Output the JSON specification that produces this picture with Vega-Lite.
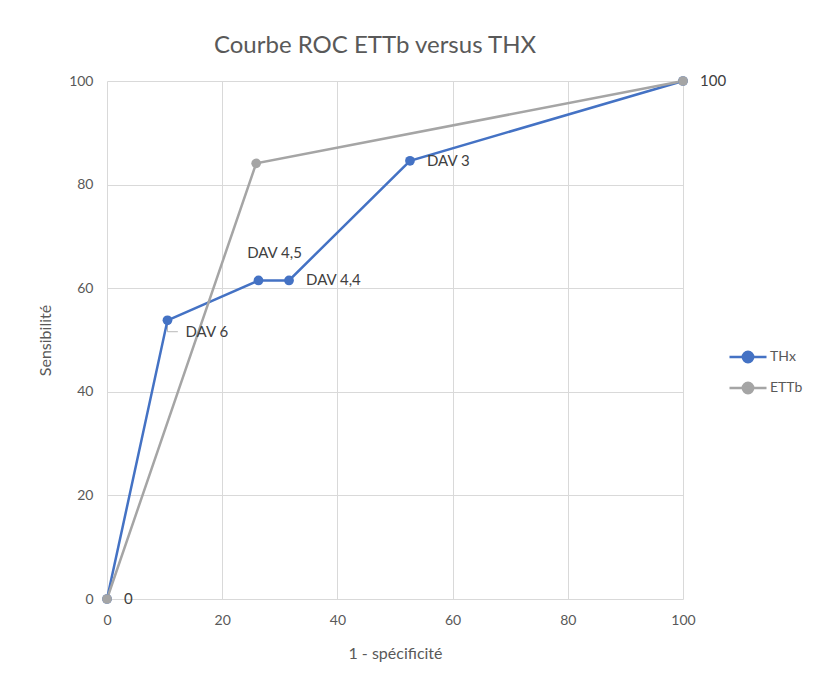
{
  "$schema": "https://vega.github.io/schema/vega-lite/v6.json",
  "autosize": "none",
  "width": 576,
  "height": 518,
  "padding": {"left": 107, "top": 81, "right": 131, "bottom": 85},
  "background": "white",
  "config": {
    "view": {"stroke": null},
    "font": "Lato",
    "axis": {
      "grid": true, "gridColor": "#d9d9d9", "gridWidth": 1,
      "domain": false, "ticks": false, "labelFlush": false, "labelBound": false,
      "labelColor": "#595959", "labelFontSize": 14, "labelFont": "Lato",
      "titleColor": "#595959", "titleFontSize": 16, "titleFontWeight": "normal", "titleFont": "Lato"
    }
  },
  "title": {
    "text": "Courbe ROC ETTb versus THX",
    "fontSize": 24, "fontWeight": "normal", "color": "#595959", "font": "Lato",
    "anchor": "middle", "dx": -20, "offset": 16
  },
  "datasets": {
    "roc": [
      {"serie": "THx", "fpr": 0, "sens": 0},
      {"serie": "THx", "fpr": 10.5, "sens": 53.8},
      {"serie": "THx", "fpr": 26.3, "sens": 61.5},
      {"serie": "THx", "fpr": 31.6, "sens": 61.5},
      {"serie": "THx", "fpr": 52.6, "sens": 84.6},
      {"serie": "THx", "fpr": 100, "sens": 100},
      {"serie": "ETTb", "fpr": 0, "sens": 0},
      {"serie": "ETTb", "fpr": 25.9, "sens": 84.1},
      {"serie": "ETTb", "fpr": 100, "sens": 100}
    ],
    "labRight": [
      {"fpr": 31.6, "sens": 61.5, "label": "DAV 4,4"},
      {"fpr": 52.6, "sens": 84.6, "label": "DAV 3"},
      {"fpr": 100, "sens": 100, "label": "100"},
      {"fpr": 0, "sens": 0, "label": "0"}
    ],
    "labAbove": [
      {"fpr": 26.3, "sens": 61.5, "label": "DAV 4,5"}
    ],
    "labBelow": [
      {"fpr": 10.5, "sens": 53.8, "label": "DAV 6"}
    ],
    "leader": [
      {"fpr": 10.5, "sens": 53.6, "o": 1},
      {"fpr": 10.5, "sens": 51.6, "o": 2},
      {"fpr": 12.3, "sens": 51.6, "o": 3}
    ]
  },
  "layer": [
    {
      "data": {"name": "leader"},
      "mark": {"type": "line", "color": "#a6a6a6", "strokeWidth": 0.8},
      "encoding": {
        "x": {"field": "fpr", "type": "quantitative"},
        "y": {"field": "sens", "type": "quantitative"},
        "order": {"field": "o"}
      }
    },
    {
      "data": {"name": "roc"},
      "mark": {"type": "line", "strokeWidth": 2.5, "point": {"filled": true, "size": 95}},
      "encoding": {
        "x": {"field": "fpr", "type": "quantitative", "title": "1 - spécificité",
              "scale": {"domain": [0, 100]},
              "axis": {"values": [0, 20, 40, 60, 80, 100], "labelPadding": 14, "titleY": 46}},
        "y": {"field": "sens", "type": "quantitative", "title": "Sensibilité",
              "scale": {"domain": [0, 100]},
              "axis": {"values": [0, 20, 40, 60, 80, 100], "labelPadding": 14, "titleX": -54}},
        "color": {
          "field": "serie", "type": "nominal",
          "scale": {"domain": ["THx", "ETTb"], "range": ["#4472C4", "#A5A5A5"]},
          "legend": {
            "title": null, "orient": "none", "legendX": 621, "legendY": 256,
            "symbolType": "M-1,0H1M0.28,0A0.28,0.28,0,1,1,-0.28,0A0.28,0.28,0,1,1,0.28,0",
            "symbolSize": 1370, "symbolStrokeWidth": 2.5, "rowPadding": 0,
            "labelFontSize": 14, "labelColor": "#595959", "labelFont": "Lato", "labelOffset": 2,
            "encode": {"symbols": {"update": {"fill": {"scale": "color", "field": "value"}}}}
          }
        },
        "order": {"field": "fpr"}
      }
    },
    {
      "data": {"name": "labRight"},
      "mark": {"type": "text", "align": "left", "baseline": "middle", "dx": 17, "fontSize": 15, "color": "#404040", "font": "Lato"},
      "encoding": {
        "x": {"field": "fpr", "type": "quantitative"},
        "y": {"field": "sens", "type": "quantitative"},
        "text": {"field": "label"}
      }
    },
    {
      "data": {"name": "labAbove"},
      "mark": {"type": "text", "align": "center", "baseline": "middle", "dx": 16, "dy": -27, "fontSize": 15, "color": "#404040", "font": "Lato"},
      "encoding": {
        "x": {"field": "fpr", "type": "quantitative"},
        "y": {"field": "sens", "type": "quantitative"},
        "text": {"field": "label"}
      }
    },
    {
      "data": {"name": "labBelow"},
      "mark": {"type": "text", "align": "left", "baseline": "middle", "dx": 18, "dy": 12, "fontSize": 15, "color": "#404040", "font": "Lato"},
      "encoding": {
        "x": {"field": "fpr", "type": "quantitative"},
        "y": {"field": "sens", "type": "quantitative"},
        "text": {"field": "label"}
      }
    }
  ]
}
